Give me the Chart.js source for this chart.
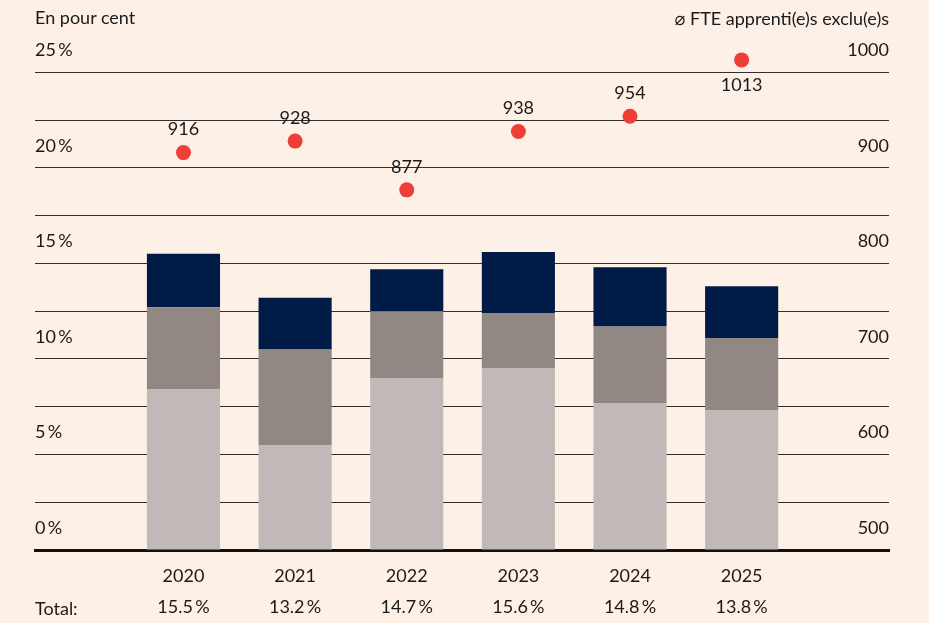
<!DOCTYPE html>
<html>
<head>
<meta charset="utf-8">
<script src="https://cdn.jsdelivr.net/npm/chart.js@4"></script>
<style>
  html, body { margin: 0; background: #fdf0e6; }
  #wrap { position: relative; width: 929px; height: 623px; }
  .note { position: absolute; font: 18px Lato, "DejaVu Sans", sans-serif; color: #1a1a1a; line-height: 20px; }
</style>
</head>
<body>
<div id="wrap">
  <canvas id="chart" width="929" height="623"></canvas>
  <div class="note" style="left:35px; top:7px">En pour cent</div>
  <div class="note" style="right:40px; top:8px">⌀ FTE apprenti(e)s exclu(e)s</div>
  <div class="note" style="left:35px; top:598px">Total:</div>
</div>
<script>
// data
const years = ['2020', '2021', '2022', '2023', '2024', '2025'];
const shareLight = [8.4, 5.5, 9.0, 9.5, 7.7, 7.3];
const shareMid = [4.3, 5.0, 3.5, 2.9, 4.0, 3.8];
const shareDark = [2.8, 2.7, 2.2, 3.2, 3.1, 2.7];
const totals = ['15.5', '13.2', '14.7', '15.6', '14.8', '13.8'];
const fte = [916, 928, 877, 938, 954, 1013];

const textColor = '#1a1a1a';
const font = { family: 'Lato, "DejaVu Sans", sans-serif', size: 18 };

const toPoints = (arr) => arr.map((v, i) => ({ x: i, y: v }));

// labels above the red dots (below when there is no room)
const dotLabels = {
    id: 'dotLabels',
    afterDatasetsDraw(chart) {
        const ctx = chart.ctx;
        const meta = chart.getDatasetMeta(3);
        const topLine = chart.scales.y.getPixelForValue(25);
        ctx.save();
        ctx.font = font.size + 'px ' + font.family;
        ctx.fillStyle = textColor;
        ctx.textAlign = 'center';
        ctx.textBaseline = 'middle';
        meta.data.forEach((p, i) => {
            let y = p.y - 23;
            if (y < topLine) y = p.y + 25;
            ctx.fillText(String(fte[i]), p.x, y);
        });
        ctx.restore();
    }
};

new Chart(document.getElementById('chart'), {
    type: 'bar',
    data: {
        datasets: [
            { label: 'a', data: toPoints(shareLight), backgroundColor: '#c1b9b7', order: 1 },
            { label: 'b', data: toPoints(shareMid), backgroundColor: '#918884', order: 2 },
            { label: 'c', data: toPoints(shareDark), backgroundColor: '#001b45', order: 3 },
            {
                type: 'line',
                label: 'FTE',
                data: toPoints(fte),
                yAxisID: 'y1',
                showLine: false,
                pointRadius: 7.5,
                pointHoverRadius: 7.5,
                pointBackgroundColor: '#ee3f37',
                pointBorderWidth: 0,
                order: 0
            }
        ]
    },
    options: {
        responsive: false,
        animation: false,
        layout: { padding: { left: 35, right: 40, top: 0, bottom: 0 } },
        datasets: {
            bar: { barPercentage: 0.655, categoryPercentage: 1 }
        },
        plugins: {
            legend: { display: false },
            tooltip: { enabled: false }
        },
        scales: {
            x: {
                type: 'linear',
                stacked: true,
                offset: false,
                min: -1.33,
                max: 6.32,
                z: 1,
                afterBuildTicks: (scale) => {
                    scale.ticks = years.map((_, i) => ({ value: i }));
                },
                afterFit: (scale) => { scale.height = 73; },
                grid: { display: false, drawTicks: false },
                border: { display: true, color: '#111', width: 3 },
                ticks: {
                    padding: 11,
                    color: textColor,
                    font: { ...font, lineHeight: 31 / 18 },
                    maxRotation: 0,
                    autoSkip: false,
                    callback: (value, index) => [years[index], totals[index] + '\u2009%']
                }
            },
            y: {
                stacked: true,
                min: 0,
                max: 28.22,
                afterBuildTicks: (scale) => {
                    scale.ticks = scale.ticks.filter((t) => t.value <= 25);
                },
                afterFit: (scale) => { scale.width = 0; },
                grid: { color: '#2e2e2e', lineWidth: 1, drawTicks: false },
                border: { display: false },
                ticks: {
                    stepSize: 2.5,
                    mirror: true,
                    padding: 0,
                    labelOffset: -22,
                    color: textColor,
                    font: font,
                    callback: (v) => (v % 5 === 0 ? v + '\u2009%' : '')
                }
            },
            y1: {
                position: 'right',
                min: 500,
                max: 1064.4,
                afterBuildTicks: (scale) => {
                    scale.ticks = scale.ticks.filter((t) => t.value <= 1000);
                },
                afterFit: (scale) => { scale.width = 0; },
                grid: { display: false, drawTicks: false },
                border: { display: false },
                ticks: {
                    stepSize: 50,
                    mirror: true,
                    padding: 0,
                    labelOffset: -22,
                    color: textColor,
                    font: font,
                    callback: (v) => (v % 100 === 0 ? String(v) : '')
                }
            }
        }
    },
    plugins: [dotLabels]
});
</script>
</body>
</html>
